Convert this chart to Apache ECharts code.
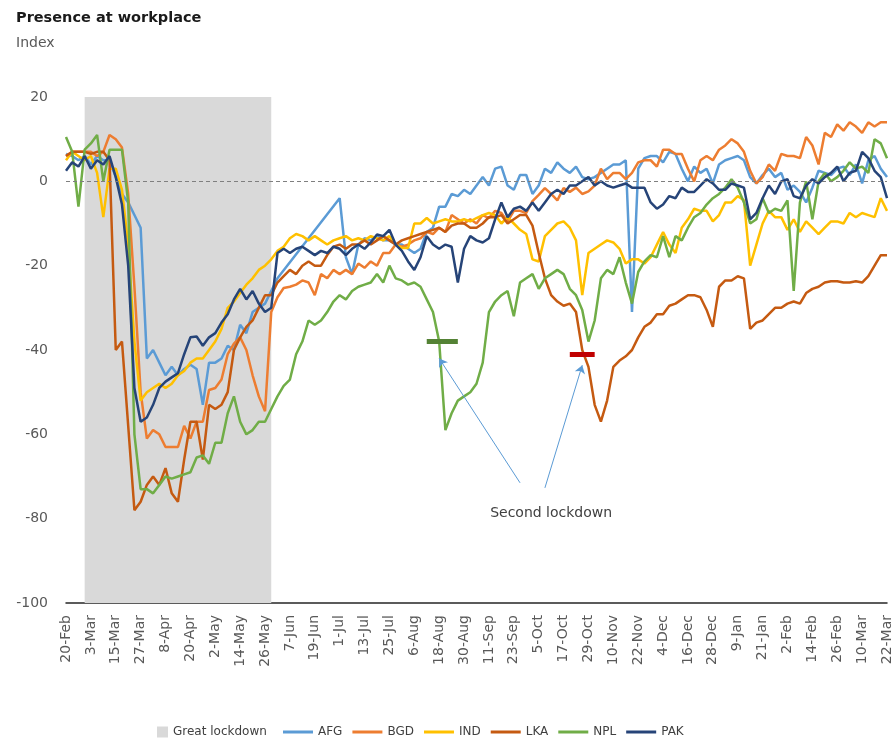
<!DOCTYPE html>
<html>
<head>
<meta charset="utf-8">
<script src="https://cdn.jsdelivr.net/npm/echarts@6/dist/echarts.min.js"></script>
<style>html,body{margin:0;padding:0;background:#fff}#chart{width:894px;height:742px}</style>
</head>
<body>
<div id="chart"></div>
<script>
// ---- Data (index of presence at workplace, sampled every 3 days from 20-Feb-2020 to 22-Mar-2021) ----
const START_DATE = [2020, 1, 20];   // 20-Feb-2020
const STEP_DAYS = 3;
const N_POINTS = 133;
const MONTHS = ['Jan','Feb','Mar','Apr','May','Jun','Jul','Aug','Sep','Oct','Nov','Dec'];
const dates = [];
for (let i = 0; i < N_POINTS; i++) {
  const t = new Date(Date.UTC(START_DATE[0], START_DATE[1], START_DATE[2]) + i * STEP_DAYS * 86400000);
  dates.push(t.toISOString().slice(0, 10));
}
const lockdownStart = '2020-02-29';
const lockdownEnd = '2020-05-29';

const AFG = [6.5,6,5,6,4,6,5,5,1,-3,-5,-8,-11,-42,-40,-43,-46,-44,-46,-44.5,-43.5,-44.5,-53,-43,-43,-42,-39,-40,-34,-36,-31,-30,-29,-26,-23,
  null,null,null,null,null,null,null,null,null,
  -4,-18,-22,-15,-13.5,-14,-13,-14,-14,-15,-15,-16,-17,-16,-12,-11,-6,-6,-3,-3.5,-2,-3,-1,1,-1,3,3.5,-1,-2,1.5,1.5,-3,-1,3,2,4.5,3,2,3.5,1,0.5,1,2,3,4,4,5,-31,3,5.5,6,6,4.5,7,6.5,3,0,3.5,2,3,-0.5,4,5,5.5,6,5,1,-0.5,1.5,3,1,2,-2,-1,-2.5,-5,-1.5,2.5,2,1.5,3,3.5,1.5,4,-0.5,5,6,3,1];
const BGD = [6,7,7,7,7,6,7,11,10,8,-3,-25,-50,-61,-59,-60,-63,-63,-63,-58,-61,-57,-57,-49.5,-49,-47,-41,-38.5,-37,-40,-46,-51,-54.5,-31,-27.5,-25.3,-25,-24.5,-23.5,-24,-27,-22,-23,-21,-22,-21,-22,-19.5,-20.5,-19,-20,-17,-17,-15,-15.5,-15,-14,-13.5,-12,-12.5,-11,-12,-8,-9,-10,-9,-10,-8,-8.7,-7,-7.5,-9.5,-7,-7,-7.5,-4.7,-3.2,-1.6,-3,-4.5,-1.6,-2.5,-1.5,-3,-2.4,-1,3,0.5,2,2,0.5,2,4.5,5,5,3.5,7.5,7.5,6.5,6.5,3,0,5,6,5,7.5,8.5,10,9,7,2.5,-0.5,1,4,2.5,6.5,6,6,5.5,10.5,8.5,4,11.5,10.5,13.5,12,14,13,11.5,14,13,14,14];
const IND = [5,7,6,5,6,2,-8.5,3,3,-2,-15,-38,-52,-50,-49,-48,-49,-48,-46,-45,-43,-42,-42,-40,-38,-35,-30,-28.5,-26.5,-24.5,-23,-21,-20,-18.5,-16.5,-15.5,-13.5,-12.5,-13,-14,-13,-14,-15,-14,-13.5,-13,-14,-13.5,-14,-13,-13.5,-14,-13,-15,-15.8,-15.8,-10,-10,-8.7,-10,-9.5,-9,-9.5,-9.5,-9,-9.5,-8.7,-8,-7.5,-8,-10,-8.5,-10,-11.5,-12.5,-18.5,-19,-13,-11.5,-10,-9.5,-11,-14,-27,-17,-16,-15,-14,-14.5,-16,-19.5,-18.5,-18.5,-19.5,-18,-15,-12,-15,-17,-11,-9,-6.5,-7,-7,-9.5,-8,-5,-5,-3.5,-4.5,-20,-15,-10,-7,-8.5,-8.5,-11.5,-9,-12,-9.5,-11,-12.5,-11,-9.5,-9.5,-10,-7.5,-8.5,-7.5,-8,-8.5,-4,-7];
const LKA = [6,7,7,7,6.5,7,7,5,-40,-38,-58,-78,-76,-72,-70,-72,-68,-74,-76,-66,-57,-57,-66,-53,-54,-53,-50,-40,-37,-34.5,-33,-30,-27,-27,-24,-22.5,-21,-22,-20,-19,-20,-20,-17.5,-15.5,-15,-16,-15,-15,-14,-15,-14,-13,-14,-15,-14,-13.5,-13,-12.5,-12,-11.5,-11,-12,-10.5,-10,-10,-11,-11,-10,-8.5,-8.5,-8,-10,-9,-8,-8,-10.5,-17,-23,-27,-28.5,-29.5,-29,-31,-40,-44,-53,-57,-52,-44,-42.5,-41.5,-40,-37,-34.5,-33.5,-31.5,-31.5,-29.5,-29,-28,-27,-27,-27.5,-30.5,-34.5,-25,-23.5,-23.5,-22.5,-23,-35,-33.5,-33,-31.5,-30,-30,-29,-28.5,-29,-26.5,-25.5,-25,-24,-23.7,-23.7,-24,-24,-23.7,-24,-22.5,-20,-17.5,-17.5];
const NPL = [10.5,7,-6,7.5,9,11,0,7.5,7.5,7.5,-5,-60,-73,-73,-74,-72,-70,-70.5,-70,-69.5,-69,-65.5,-65,-67,-62,-62,-55,-51,-57,-60,-59,-57,-57,-54,-51,-48.5,-47,-41,-38,-33,-34,-33,-31,-28.5,-27,-28,-26,-25,-24.5,-24,-22,-24,-20,-23,-23.5,-24.5,-24,-25,-28,-31,-38,-59,-55,-52,-51,-50,-48,-43,-31,-28.5,-27,-26,-32,-24,-23,-22,-25.5,-23,-22,-21,-22,-25.5,-27,-30.5,-38,-33,-23,-21,-22,-18,-24,-29,-21.5,-19,-17.5,-18,-13,-18,-13,-14,-11,-8.5,-7.5,-5.5,-4,-3,-1.5,0.5,-1.5,-5,-10,-9,-4,-7.5,-6.5,-7,-4.5,-26,-5,0,-9,0,2,0,1,2.5,4.5,3,3.5,2,10,9,5.5];
const PAK = [2.5,4.5,3.5,6,3,5,4,6,1,-5.5,-20,-49,-57,-56,-53,-49,-47.5,-46.5,-45.5,-41,-37,-36.8,-39,-37,-36,-33.5,-31.5,-28,-25.5,-28,-26,-29,-31,-30,-17,-16,-17,-16,-15.5,-16.5,-17.5,-16.5,-17,-15.5,-16,-17.5,-16,-15,-16,-14.5,-12.6,-13,-11.5,-15,-16.5,-19,-21,-18,-13,-15,-16,-15,-15.5,-24,-16,-13,-14,-14.5,-13.5,-9,-5,-8.5,-6.5,-6,-7,-5,-7,-5,-3,-2,-3,-1,-1,0,1,-1,0,-1,-1.5,-1,-0.5,-1.5,-1.5,-1.5,-5,-6.5,-5.5,-3.5,-4,-1.5,-2.5,-2.5,-1,0.5,-0.5,-2,-2,-0.5,-1,-1.5,-9,-7.5,-4,-1,-3,0,0.5,-3.5,-4,-1,0.5,-0.5,1,2,3.5,0,2,2.5,7,5.5,2.5,1,-4];

const seriesNames = ['AFG','BGD','IND','LKA','NPL','PAK'];
const seriesValues = [AFG, BGD, IND, LKA, NPL, PAK];
const seriesColors = ['#5B9BD5','#ED7D31','#FFC000','#C55A11','#70AD47','#264478'];

const yTicks = { min: -100, max: 20, interval: 20 };

const chart = echarts.init(document.getElementById('chart'), null, { renderer: 'canvas' });
const FONT = 'DejaVu Sans';

const lineSeries = seriesNames.map((name, k) => ({
  name: name,
  type: 'line',
  data: seriesValues[k],
  symbol: 'none',
  showSymbol: false,
  connectNulls: true,
  z: 3,
  lineStyle: { width: 2.5, color: seriesColors[k] },
  itemStyle: { color: seriesColors[k] },
  emphasis: { disabled: true },
  animation: false
}));

const option = {
  animation: false,
  backgroundColor: '#ffffff',
  title: [
    { text: 'Presence at workplace', left: 11, top: 6,
      textStyle: { fontFamily: FONT, fontSize: 14.5, fontWeight: 'bold', color: '#1a1a1a' } },
    { text: 'Index', left: 11, top: 31,
      textStyle: { fontFamily: FONT, fontSize: 14, fontWeight: 'normal', color: '#595959' } }
  ],
  legend: [
    { data: [{ name: 'Great lockdown', icon: 'rect' }], left: 152, top: 721, itemWidth: 11, itemHeight: 11, itemGap: 10,
      textStyle: { fontFamily: FONT, fontSize: 12, color: '#404040' }, selectedMode: false },
    { data: seriesNames.map(n => ({ name: n, icon: 'rect' })), left: 278, top: 721, itemWidth: 30, itemHeight: 3, itemGap: 10,
      textStyle: { fontFamily: FONT, fontSize: 12, color: '#404040' }, selectedMode: false }
  ],
  grid: { left: 66, right: 6, top: 97, bottom: 139, containLabel: false },
  xAxis: {
    type: 'category',
    data: dates,
    boundaryGap: false,
    axisLine: { show: true, onZero: false, lineStyle: { color: '#262626', width: 1.5 } },
    axisTick: { show: false },
    splitLine: { show: false },
    axisLabel: {
      interval: 3, rotate: 90, margin: 12,
      fontFamily: FONT, fontSize: 14, color: '#595959',
      formatter: function (v) { const p = v.split('-'); return (+p[2]) + '-' + MONTHS[+p[1] - 1]; }
    }
  },
  yAxis: {
    type: 'value', min: yTicks.min, max: yTicks.max, interval: yTicks.interval,
    axisLine: { show: false }, axisTick: { show: false }, splitLine: { show: false },
    axisLabel: { fontFamily: FONT, fontSize: 14, color: '#595959', margin: 18 }
  },
  series: [
    {
      name: 'Great lockdown', type: 'line', data: [], z: 1, silent: true,
      itemStyle: { color: '#D9D9D9' }, lineStyle: { color: '#D9D9D9' },
      markArea: { silent: true, itemStyle: { color: '#D9D9D9', opacity: 1 },
        data: [[{ xAxis: lockdownStart }, { xAxis: lockdownEnd }]] },
      markLine: { silent: true, symbol: ['none','none'], label: { show: false },
        lineStyle: { type: [4, 3], color: '#7F7F7F', width: 1 },
        data: [{ yAxis: 0 }] }
    }
  ].concat(lineSeries).concat([
    {
      name: 'annot', type: 'line', data: [], z: 6, silent: true,
      markLine: {
        silent: true, symbol: ['none','none'], label: { show: false }, animation: false,
        data: [
          [{ coord: ['2020-08-12', -38], lineStyle: { color: '#548235', width: 5, type: 'solid' } }, { coord: ['2020-08-27', -38] }],
          [{ coord: ['2020-10-20', -41], lineStyle: { color: '#C00000', width: 5, type: 'solid' } }, { coord: ['2020-11-01', -41] }],
          [{ coord: ['2020-09-26', -71.5], lineStyle: { color: '#5B9BD5', width: 1, type: 'solid' } }, { coord: ['2020-08-18', -42], symbol: 'arrow', symbolSize: 8 }],
          [{ coord: ['2020-10-08', -72.7], lineStyle: { color: '#5B9BD5', width: 1, type: 'solid' } }, { coord: ['2020-10-26', -43.6], symbol: 'arrow', symbolSize: 8 }]
        ]
      },
      markPoint: {
        silent: true, symbol: 'circle', symbolSize: 0, itemStyle: { color: 'transparent' },
        label: { show: true, position: 'inside', formatter: 'Second lockdown', fontFamily: FONT, fontSize: 14, color: '#404040' },
        data: [{ coord: ['2020-10-11', -78.7] }]
      }
    }
  ])
};
chart.setOption(option);
</script>
</body>
</html>
